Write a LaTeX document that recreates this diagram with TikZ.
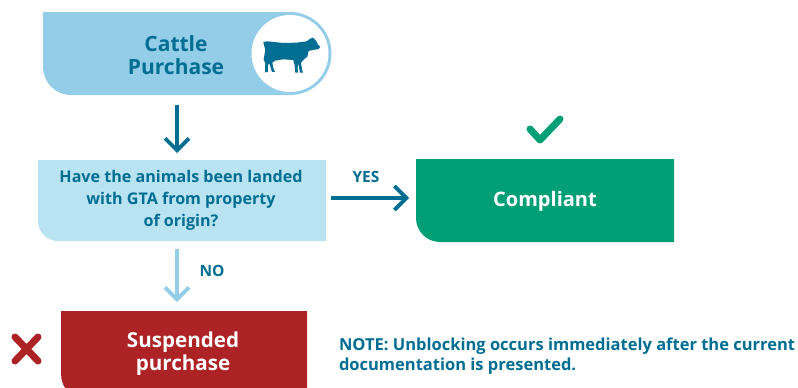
\documentclass[tikz,border=0pt]{standalone}
\usepackage{fontspec}
\setmainfont{Open Sans}[BoldFont={Open Sans Bold}]
\usetikzlibrary{arrows.meta}
\definecolor{skyblue}{HTML}{93CDE8}
\definecolor{paleblue}{HTML}{B9E3F1}
\definecolor{deepblue}{HTML}{006E92}
\definecolor{leaf}{HTML}{009F76}
\definecolor{brick}{HTML}{AD2225}
\tikzset{
  x=1pt,y=-1pt,
  box/.style={inner sep=0pt,outer sep=0pt,align=center},
  darrow/.style={line width=3.8pt,-{Straight Barb[length=12pt,width=24pt,line width=3.8pt]}},
  lbl/.style={inner sep=0pt,font=\bfseries\fontsize{15.5}{17}\selectfont,text=deepblue},
  tickmark/.style={line width=7pt,line cap=round,line join=round},
}
\begin{document}
\begin{tikzpicture}
\useasboundingbox (0,0) rectangle (798,388);
\clip (0,0) rectangle (798,388);
% top box
\fill[skyblue] (43,12) -- (290,12) arc[start angle=-90,end angle=90,radius=41.5] -- (71,95) arc[start angle=90,end angle=180,radius=28] -- cycle;
\fill[white] (290,53.5) circle[radius=38.5];
\fill[deepblue,shift={(30,0)},scale=0.3333,line join=round]
 (700,126) -- (712,124) -- (760,129) -- (800,128) -- (830,124) -- (841,116) -- (849,113) -- (858,122) -- (864,134) -- (871,140) -- (866,147) -- (848,150) -- (836,153) -- (832,170) -- (822,178) -- (813,188) -- (816,206) -- (819,218) -- (810,218) -- (806,196) -- (804,192) -- (803,206) -- (804,218) -- (796,218) -- (794,196) -- (790,180) -- (760,178) -- (735,182) -- (727,188) -- (730,204) -- (735,216) -- (726,216) -- (719,192) -- (714,194) -- (714,216) -- (705,217) -- (706,190) -- (701,178) -- (706,150) -- cycle;
\node[box,minimum width=266pt,minimum height=83pt,text=deepblue,font=\bfseries\fontsize{21}{23}\selectfont] (top) at (176,55.5) {Cattle\\Purchase};
% question box
\fill[paleblue] (38,160) -- (326,160) -- (326,241) -- (58,241) arc[start angle=90,end angle=180,radius=20] -- cycle;
\node[box,minimum width=286pt,minimum height=81pt,text=deepblue,font=\bfseries\fontsize{16.1}{22}\selectfont] (q) at (181,200.5) {Have the animals been landed\\with GTA from property\\of origin?};
% compliant
\fill[leaf] (416,159) -- (674,159) -- (674,242) -- (440,242) arc[start angle=90,end angle=180,radius=24] -- cycle;
\node[box,minimum width=258pt,minimum height=83pt,text=white,font=\bfseries\fontsize{20}{24}\selectfont] (ok) at (545,201) {Compliant};
% suspended
\fill[brick] (61,311) -- (307,311) -- (307,400) -- (87,400) arc[start angle=90,end angle=180,radius=26] -- cycle;
\node[box,minimum width=244pt,minimum height=86pt,text=white,font=\bfseries\fontsize{20.6}{23}\selectfont] (susp) at (183,354) {Suspended\\purchase};
% connectors
\draw[darrow,deepblue] ([xshift=1pt,yshift=-8pt]top.south) -- ([xshift=-4pt,yshift=7pt]q.north);
\draw[darrow,deepblue] ([xshift=7pt,yshift=2.5pt]q.east) -- ([xshift=-7pt,yshift=3pt]ok.west);
\draw[darrow,skyblue] ([xshift=-4pt,yshift=-8pt]q.south) -- ([xshift=-6pt,yshift=9pt]susp.north);
\node[lbl] (yes) at (366,177) {YES};
\node[lbl] (no) at (212,270.5) {NO};
% marks
\draw[tickmark,leaf] (530,129) -- (540,140) -- (560,119);
\draw[tickmark,brick] (15,337) -- (38,361) (38,337) -- (15,361);
% note
\node[box,anchor=north west,align=left,text=deepblue,font=\bfseries\fontsize{16.5}{20}\selectfont] (note) at (339,338) {NOTE: Unblocking occurs immediately after the current\\documentation is presented.};
\end{tikzpicture}
\end{document}
